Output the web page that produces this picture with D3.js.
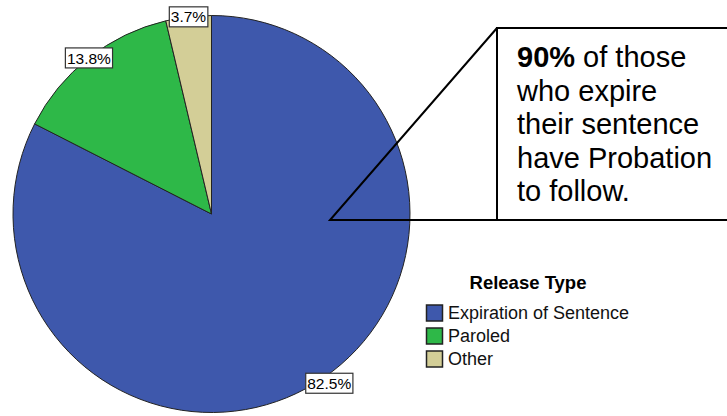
<!DOCTYPE html>
<html>
<head>
<meta charset="utf-8">
<script src="https://cdn.jsdelivr.net/npm/d3@7"></script>
<style>
  body { margin: 0; background: #fff; }
  svg { display: block; font-family: Arial, "Liberation Sans", sans-serif; }
</style>
</head>
<body>
<svg></svg>
<script>
const width = 727;
const height = 416;

// data
const categories = ["Expiration of Sentence", "Paroled", "Other"];
const percents = [82.5, 13.8, 3.7];
const colors = ["#3e58ac", "#2eb848", "#d3ce97"];
const legendTitle = "Release Type";
const calloutBold = "90%";
const calloutLines = [" of those", "who expire", "their sentence", "have Probation", "to follow."];

let svg = d3.select("svg").attr("width", width).attr("height", height);

const cx = 211.5, cy = 214, r = 198.5;

let pie = d3.pie().sort(null).value((d) => d);
let arcs = pie(percents);
let arc = d3.arc().innerRadius(0).outerRadius(r);

let chart = svg.append("g").attr("transform", `translate(${cx},${cy})`);

chart
    .selectAll("path")
    .data(arcs)
    .join("path")
    .attr("d", arc)
    .attr("fill", (d, i) => colors[i])
    .attr("stroke", "#222")
    .attr("stroke-width", 1);

// percent labels sitting on the rim
let labels = chart
    .selectAll("g.lbl")
    .data(arcs)
    .join("g")
    .attr("class", "lbl")
    .attr("transform", (d) => {
        const a = (d.startAngle + d.endAngle) / 2;
        const dx = d.index === 0 ? 14 : 0; // SPSS shifts the big one a little
        return `translate(${r * Math.sin(a) + dx},${-r * Math.cos(a)})`;
    });

labels.each(function (d) {
    const g = d3.select(this);
    const t = g
        .append("text")
        .attr("text-anchor", "middle")
        .attr("dy", "0.36em")
        .style("font-size", "15.5px")
        .text(d3.format(".1f")(d.data) + "%");
    const b = t.node().getBBox();
    g.insert("rect", "text")
        .attr("x", b.x - 1.5)
        .attr("y", -10)
        .attr("width", b.width + 3)
        .attr("height", 20)
        .attr("fill", "#fff")
        .attr("stroke", "#333")
        .attr("stroke-width", 1.2);
});

// callout
const tip = [330, 220], boxL = 497, boxT = 28, boxB = 220;
svg.append("rect")
    .attr("x", boxL).attr("y", boxT)
    .attr("width", width - boxL + 5).attr("height", boxB - boxT)
    .attr("fill", "#fff")
    .attr("stroke", "#000")
    .attr("stroke-width", 2);
svg.append("path")
    .attr("d", `M${boxL},${boxT} L${tip[0]},${tip[1]} L${boxL},${boxB}`)
    .attr("fill", "none")
    .attr("stroke", "#000")
    .attr("stroke-width", 2);

let ct = svg.append("text")
    .attr("x", 517)
    .attr("y", 67)
    .style("font-size", "29px")
    .attr("fill", "#000");
calloutLines.forEach((line, i) => {
    if (i === 0) {
        ct.append("tspan").attr("x", 517).attr("y", 67)
            .style("font-weight", "bold").text(calloutBold);
        ct.append("tspan").text(line);
    } else {
        ct.append("tspan").attr("x", 517).attr("y", 67 + i * 33.5).text(line);
    }
});

// legend
let legend = svg.append("g").attr("transform", "translate(426,0)");
legend.append("text")
    .attr("x", 102)
    .attr("y", 289)
    .attr("text-anchor", "middle")
    .style("font-size", "18.5px")
    .style("font-weight", "bold")
    .text(legendTitle);

let items = legend
    .selectAll("g.item")
    .data(categories)
    .join("g")
    .attr("class", "item")
    .attr("transform", (d, i) => `translate(0,${313 + i * 23})`);
items.append("rect")
    .attr("x", 0.5).attr("y", -8)
    .attr("width", 16).attr("height", 16)
    .attr("fill", (d, i) => colors[i])
    .attr("stroke", "#222")
    .attr("stroke-width", 1.5);
items.append("text")
    .attr("x", 22)
    .attr("dy", "0.36em")
    .style("font-size", "18px")
    .attr("fill", "#111")
    .text((d) => d);
</script>
</body>
</html>
